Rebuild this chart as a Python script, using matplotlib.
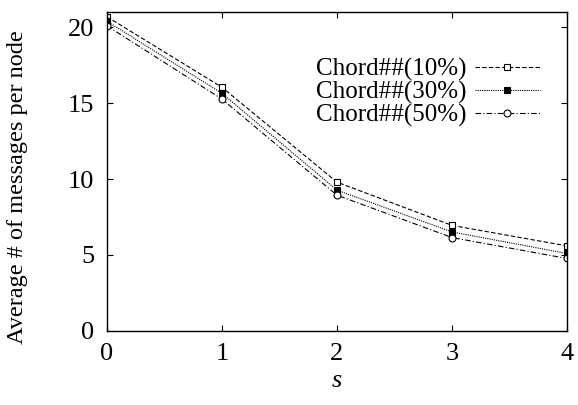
import matplotlib
matplotlib.use("Agg")
import matplotlib.pyplot as plt
import numpy as np

plt.rcParams['font.family'] = ['Liberation Serif', 'DejaVu Serif']
plt.rcParams['mathtext.fontset'] = 'stix'

s = [0, 1, 2, 3, 4]
chord_10 = [20.7, 16.05, 9.8, 6.95, 5.6]
chord_30 = [20.4, 15.65, 9.27, 6.52, 5.1]
chord_50 = [20.1, 15.27, 8.94, 6.15, 4.77]
labels = ["Chord##(10%)", "Chord##(30%)", "Chord##(50%)"]

fig = plt.figure(figsize=(5.78, 4.05), dpi=100)
ax = fig.add_axes([0.185, 0.183, 0.796, 0.787])

ax.plot(s, chord_10, color='black', lw=0.8, ls=(0, (4, 2)),
        marker='s', ms=5, mfc='white', mec='black', mew=0.8, label=labels[0])
ax.plot(s, chord_30, color='black', lw=0.8, ls=(0, (1, 1)),
        marker='s', ms=5, mfc='black', mec='black', mew=0.8, label=labels[1])
ax.plot(s, chord_50, color='black', lw=0.8, ls=(0, (5, 2, 1, 2)),
        marker='o', ms=5, mfc='white', mec='black', mew=0.8, label=labels[2])

ax.set_xlim(0, 4)
ax.set_ylim(0, 21)
ax.set_xticks([0, 1, 2, 3, 4])
ax.set_yticks([0, 5, 10, 15, 20])
ax.tick_params(direction='in', top=True, right=True, labelsize=19, length=4,
               width=0.8, pad=9)
for sp in ax.spines.values():
    sp.set_linewidth(1.0)

ax.set_xlabel("s", fontsize=19, style='italic', labelpad=3)
ax.set_ylabel("Average # of messages per node", fontsize=17.5)
ax.yaxis.set_label_coords(-0.172, 0.451)

# legend: text first, sample on the right (gnuplot style)
leg = ax.legend(loc='upper right', bbox_to_anchor=(0.941, 0.856), frameon=False,
                markerfirst=False, fontsize=18, handlelength=2.6,
                handletextpad=0.35, labelspacing=0.0, borderpad=0,
                borderaxespad=0)

fig.savefig("out.png", dpi=100)
